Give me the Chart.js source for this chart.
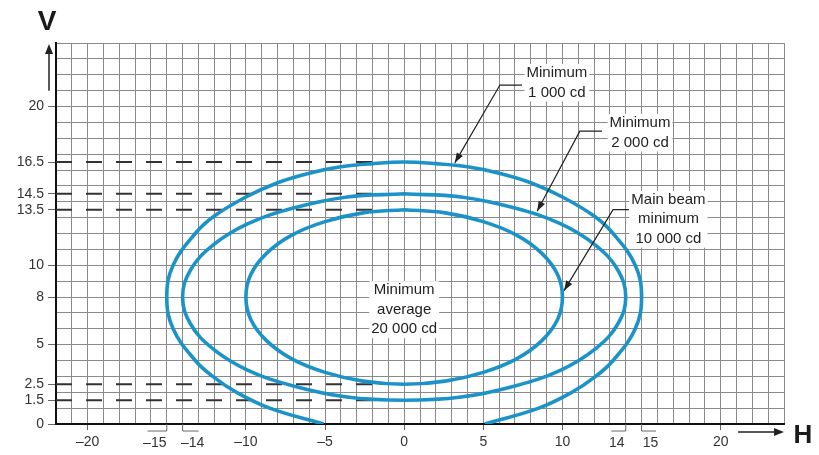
<!DOCTYPE html>
<html><head><meta charset="utf-8">
<script src="https://cdn.jsdelivr.net/npm/chart.js@4.4.1/dist/chart.umd.min.js"></script>
<style>html,body{margin:0;padding:0;background:#fff;}</style>
</head><body>
<canvas id="c" width="819" height="455"></canvas>
<script>
// ---- axis ranges and labelled ticks ----
const xMin = -22, xMax = 24, yMin = 0, yMax = 24;
const xLabels = [-20, -15, -14, -10, -5, 0, 5, 10, 14, 15, 20];
const yLabels = [0, 1.5, 2.5, 5, 8, 10, 13.5, 14.5, 16.5, 20];

// ---- isocandela curves (H, V in degrees) ----
const outerH = [-5.1, -8.5, -10.6, -12.1, -13.2, -14.6, -15, -14.6, -13.2, -12, -10, -8, -6, -4, -2, 0, 2, 4, 6, 8, 10, 12, 13.2, 14.6, 15, 14.6, 13.2, 12.1, 10.6, 8.5, 5.1];
const outerV = [0, 1, 2, 3, 4, 6, 8, 10, 12, 13.1, 14.3, 15.2, 15.8, 16.2, 16.4, 16.5, 16.4, 16.2, 15.8, 15.2, 14.3, 13.1, 12, 10, 8, 6, 4, 3, 2, 1, 0];

const midH = [0, 3.6, 7, 9.9, 12.1, 13.5, 14, 13.5, 12.1, 9.9, 7, 3.6, 0, -3.6, -7, -9.9, -12.1, -13.5, -14, -13.5, -12.1, -9.9, -7, -3.6, 0];
const midV = [14.5, 14.3, 13.6, 12.6, 11.25, 9.7, 8, 6.3, 4.75, 3.4, 2.4, 1.7, 1.5, 1.7, 2.4, 3.4, 4.75, 6.3, 8, 9.7, 11.25, 12.6, 13.6, 14.3, 14.5];

const innerH = [0, 2.6, 5, 7.1, 8.7, 9.7, 10, 9.7, 8.7, 7.1, 5, 2.6, 0, -2.6, -5, -7.1, -8.7, -9.7, -10, -9.7, -8.7, -7.1, -5, -2.6, 0];
const innerV = [13.5, 13.3, 12.75, 11.9, 10.75, 9.4, 8, 6.6, 5.25, 4.1, 3.25, 2.7, 2.5, 2.7, 3.25, 4.1, 5.25, 6.6, 8, 9.4, 10.75, 11.9, 12.75, 13.3, 13.5];

// ---- dashed reference levels ----
const dashV = [16.5, 14.5, 13.5, 2.5, 1.5];
const dashEndH = [-2, -2, -2, -2, -2];

// ---- annotations ----
const noteTexts = [
  ['Minimum', '1 000 cd'],
  ['Minimum', '2 000 cd'],
  ['Main beam', 'minimum', '10 000 cd'],
  ['Minimum', 'average', '20 000 cd']
];
const noteAt = [[9.65, 21.5], [14.9, 18.35], [16.7, 12.9], [0, 7.2]];
const noteLeaders = [
  [[7.45, 21.35], [6.05, 21.35], [3.2, 16.45]],
  [[12.5, 18.45], [11.1, 18.45], [8.4, 13.4]],
  [[14.2, 13.5], [13.2, 13.5], [10.1, 8.4]],
  null
];

const FONT = "'Liberation Sans', Arial, sans-serif";
const BLUE = '#1b93c8';
const GRID = '#8a8a8a';
const fmt = v => v < 0 ? '\u2013' + Math.abs(v) : String(v);
const bracketX = {'-15': -12, '-14': 10, '14': -9, '15': 9};
const toPts = (H, V) => H.map((h, i) => ({x: h, y: V[i]}));

const curveStyle = {showLine: true, pointRadius: 0, borderColor: BLUE, borderWidth: 3.6, tension: 0.4, fill: false};
const datasets = [
  Object.assign({label: 'Minimum 1 000 cd', data: toPts(outerH, outerV)}, curveStyle),
  Object.assign({label: 'Minimum 2 000 cd', data: toPts(midH, midV)}, curveStyle),
  Object.assign({label: 'Main beam minimum 10 000 cd', data: toPts(innerH, innerV)}, curveStyle)
];
dashV.forEach((v, i) => datasets.push({
  label: 'level ' + v, data: [{x: xMin, y: v}, {x: dashEndH[i], y: v}],
  showLine: true, pointRadius: 0, borderColor: '#333', borderWidth: 2, borderDash: [16, 14], tension: 0
}));

function arrowHead(ctx, x0, y0, x1, y1, len, half) {
  const a = Math.atan2(y1 - y0, x1 - x0);
  ctx.beginPath();
  ctx.moveTo(x1, y1);
  ctx.lineTo(x1 - len * Math.cos(a) + half * Math.sin(a), y1 - len * Math.sin(a) - half * Math.cos(a));
  ctx.lineTo(x1 - len * Math.cos(a) - half * Math.sin(a), y1 - len * Math.sin(a) + half * Math.cos(a));
  ctx.closePath();
  ctx.fill();
}

const decor = {
  id: 'decor',
  afterDraw(chart) {
    const ctx = chart.ctx, xs = chart.scales.x, ys = chart.scales.y, ca = chart.chartArea;
    ctx.save();
    // offset x labels with brackets
    ctx.strokeStyle = '#666'; ctx.lineWidth = 1;
    ctx.fillStyle = '#333'; ctx.font = '14px ' + FONT;
    ctx.textAlign = 'center'; ctx.textBaseline = 'middle';
    Object.keys(bracketX).forEach(k => {
      const v = Number(k), px = xs.getPixelForValue(v), off = bracketX[k];
      ctx.beginPath();
      ctx.moveTo(px, ca.bottom); ctx.lineTo(px, ca.bottom + 7); ctx.lineTo(px + off * 1.6, ca.bottom + 7);
      ctx.stroke();
      ctx.fillText(fmt(v), px + off, ca.bottom + 19);
    });
    // annotations
    ctx.font = '15px ' + FONT;
    noteTexts.forEach((lines, i) => {
      const cx = xs.getPixelForValue(noteAt[i][0]), cy = ys.getPixelForValue(noteAt[i][1]);
      const lh = 19.5, h0 = cy - (lines.length - 1) * lh / 2;
      const w = Math.max(...lines.map(t => ctx.measureText(t).width)) + 4;
      ctx.fillStyle = '#fff';
      ctx.fillRect(cx - w / 2, h0 - 9, w, (lines.length - 1) * lh + 18);
      ctx.fillStyle = '#222';
      lines.forEach((t, j) => ctx.fillText(t, cx, h0 + j * lh));
      const L = noteLeaders[i];
      if (L) {
        const p = L.map(q => [xs.getPixelForValue(q[0]), ys.getPixelForValue(q[1])]);
        ctx.strokeStyle = '#222'; ctx.lineWidth = 1.2;
        ctx.beginPath(); ctx.moveTo(p[0][0], p[0][1]);
        for (let k = 1; k < p.length; k++) ctx.lineTo(p[k][0], p[k][1]);
        ctx.stroke();
        ctx.fillStyle = '#222';
        const n = p.length;
        arrowHead(ctx, p[n - 2][0], p[n - 2][1], p[n - 1][0], p[n - 1][1], 10, 3.5);
      }
    });
    // axis titles with arrows
    ctx.strokeStyle = '#222'; ctx.fillStyle = '#222'; ctx.lineWidth = 1.5;
    const vx = ca.left - 7, vTop = ca.top + 1, vBot = ys.getPixelForValue(21);
    ctx.beginPath(); ctx.moveTo(vx, vBot); ctx.lineTo(vx, vTop + 8); ctx.stroke();
    arrowHead(ctx, vx, vBot, vx, vTop, 10, 4);
    const hy = ca.bottom + 8, hL = xs.getPixelForValue(21.1), hR = ca.right;
    ctx.beginPath(); ctx.moveTo(hL, hy); ctx.lineTo(hR - 8, hy); ctx.stroke();
    arrowHead(ctx, hL, hy, hR, hy, 10, 4);
    ctx.fillStyle = '#1a1a1a';
    ctx.font = 'bold 28px ' + FONT;
    ctx.fillText('V', vx - 2, ca.top - 21);
    ctx.font = 'bold 26px ' + FONT;
    ctx.fillText('H', ca.right + 19, ca.bottom + 12);
    ctx.restore();
  }
};

const range = (a, b) => { const r = []; for (let v = a; v <= b; v++) r.push(v); return r; };

new Chart(document.getElementById('c'), {
  type: 'scatter',
  data: {datasets},
  options: {
    responsive: false, animation: false,
    layout: {padding: {left: 0, top: 43, right: 35, bottom: 0}},
    plugins: {legend: {display: false}, tooltip: {enabled: false}},
    scales: {
      x: {
        type: 'linear', min: xMin, max: xMax,
        afterBuildTicks: s => { s.ticks = range(xMin, xMax).map(v => ({value: v})); },
        afterFit: s => { s.height = 31; },
        grid: {color: GRID, lineWidth: 1, drawTicks: true, tickLength: 6,
          tickColor: c => (c.tick && xLabels.includes(c.tick.value) && !(String(c.tick.value) in bracketX)) ? '#666' : 'rgba(0,0,0,0)'},
        border: {color: '#111', width: 2},
        ticks: {autoSkip: false, maxRotation: 0, padding: 4, color: '#333', font: {family: FONT, size: 14},
          callback: v => (xLabels.includes(v) && !(String(v) in bracketX)) ? fmt(v) : ''}
      },
      y: {
        type: 'linear', min: yMin, max: yMax,
        afterBuildTicks: s => {
          const vals = Array.from(new Set(range(yMin, yMax).concat(yLabels))).sort((a, b) => a - b);
          s.ticks = vals.map(v => ({value: v}));
        },
        afterFit: s => { s.width = 56; },
        grid: {color: c => (c.tick && Number.isInteger(c.tick.value)) ? GRID : 'rgba(0,0,0,0)', lineWidth: 1, drawTicks: true, tickLength: 8,
          tickColor: c => (c.tick && yLabels.includes(c.tick.value)) ? '#666' : 'rgba(0,0,0,0)'},
        border: {color: '#111', width: 2},
        ticks: {autoSkip: false, padding: 4, color: '#333', font: {family: FONT, size: 14},
          callback: v => yLabels.includes(v) ? String(v) : ''}
      }
    }
  },
  plugins: [decor]
});
</script>
</body></html>
